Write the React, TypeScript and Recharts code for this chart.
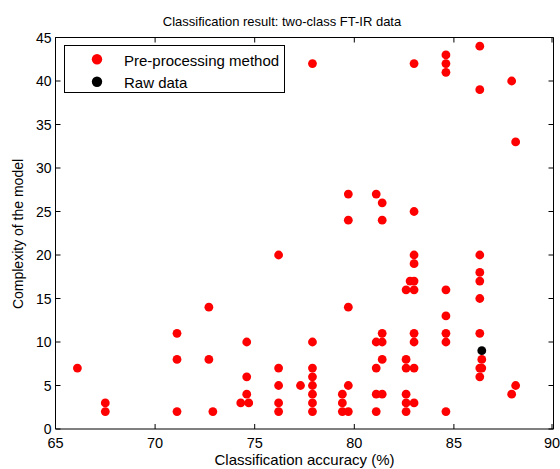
import React from 'react';
import { ScatterChart, Scatter, XAxis, YAxis } from 'recharts';

const preAccuracy = [
  66.1, 67.5, 67.5, 71.1, 71.1, 71.1, 72.7, 72.7, 72.9, 74.3,
  74.6, 74.6, 74.6, 74.7, 76.2, 76.2, 76.2, 76.2, 76.2, 77.3,
  77.9, 77.9, 77.9, 77.9, 77.9, 77.9, 77.9, 77.9, 79.7, 79.7,
  79.7, 79.7, 79.4, 79.4, 79.4, 79.7, 81.1, 81.4, 81.4, 81.4,
  81.1, 81.4, 81.4, 81.1, 81.1, 81.4, 81.1, 82.6, 82.8, 83.0,
  83.0, 83.0, 83.0, 83.0, 83.0, 83.0, 83.0, 82.6, 82.6, 83.0,
  82.6, 82.6, 83.0, 82.6, 84.6, 84.6, 84.6, 84.6, 84.6, 84.6,
  84.6, 84.6, 86.3, 86.3, 86.3, 86.3, 86.3, 86.3, 86.3, 86.4,
  86.3, 86.4, 86.3, 87.9, 88.1, 88.1, 87.9,
];
const preComplexity = [
  7, 3, 2, 11, 8, 2, 14, 8, 2, 3,
  10, 6, 4, 3, 20, 7, 5, 3, 2, 5,
  42, 10, 7, 6, 5, 4, 3, 2, 27, 24,
  14, 5, 4, 3, 2, 2, 27, 26, 24, 11,
  10, 10, 8, 7, 4, 4, 2, 16, 17, 17,
  16, 20, 19, 25, 42, 11, 10, 8, 7, 7,
  4, 3, 3, 2, 43, 42, 41, 16, 13, 11,
  10, 2, 44, 39, 20, 18, 17, 15, 11, 8,
  7, 7, 6, 40, 33, 5, 4,
];
const rawAccuracy = [86.4];
const rawComplexity = [9];

const xTicks = [65, 70, 75, 80, 85, 90];
const yTicks = [0, 5, 10, 15, 20, 25, 30, 35, 40, 45];

const titleText = 'Classification result: two-class FT-IR data';
const xLabelText = 'Classification accuracy (%)';
const yLabelText = 'Complexity of the model';
const seriesNames = ['Pre-processing method', 'Raw data'];

const preData = preAccuracy.map((x, i) => ({ x, y: preComplexity[i] }));
const rawData = rawAccuracy.map((x, i) => ({ x, y: rawComplexity[i] }));

const FONT = '"Liberation Sans", Arial, sans-serif';

const RedDot = (p: any) => <circle cx={p.cx} cy={p.cy} r={4.4} fill="#ff0000" />;
const BlackDot = (p: any) => <circle cx={p.cx} cy={p.cy} r={4.4} fill="#000000" />;

const BottomTick = (p: any) => (
  <g>
    <line x1={p.x} y1={p.y} x2={p.x} y2={p.y - 5} stroke="#000" />
    <text x={p.x} y={p.y + 19} textAnchor="middle" fontSize={14.5} fontFamily={FONT} fill="#000">
      {p.payload.value}
    </text>
  </g>
);
const TopTick = (p: any) => (
  <line x1={p.x} y1={p.y} x2={p.x} y2={p.y + 5} stroke="#000" />
);
const LeftTick = (p: any) => (
  <g>
    <line x1={p.x} y1={p.y} x2={p.x + 5} y2={p.y} stroke="#000" />
    <text x={p.x - 4} y={p.y + 5} textAnchor="end" fontSize={14} fontFamily={FONT} fill="#000">
      {p.payload.value}
    </text>
  </g>
);
const RightTick = (p: any) => (
  <line x1={p.x} y1={p.y} x2={p.x - 5} y2={p.y} stroke="#000" />
);

export default function App() {
  return (
    <div style={{ position: 'absolute', left: 0, top: 0, width: 560, height: 469, background: '#fff' }}>
      <ScatterChart
        width={560}
        height={469}
        margin={{ top: 27.5, right: 0, bottom: 10, left: 25.5 }}
      >
        <XAxis
          xAxisId="b"
          type="number"
          dataKey="x"
          domain={[65, 90]}
          ticks={xTicks}
          height={30}
          tickSize={0}
          tickMargin={0}
          tick={<BottomTick />}
          tickLine={false}
          axisLine={{ stroke: '#000' }}
          allowDataOverflow
        />
        <XAxis
          xAxisId="t"
          orientation="top"
          type="number"
          dataKey="x"
          domain={[65, 90]}
          ticks={xTicks}
          height={10}
          tickSize={0}
          tickMargin={0}
          tick={<TopTick />}
          tickLine={false}
          axisLine={{ stroke: '#000' }}
          allowDataOverflow
        />
        <YAxis
          yAxisId="l"
          type="number"
          dataKey="y"
          domain={[0, 45]}
          ticks={yTicks}
          width={30}
          tickSize={0}
          tickMargin={0}
          tick={<LeftTick />}
          tickLine={false}
          axisLine={{ stroke: '#000' }}
          allowDataOverflow
        />
        <YAxis
          yAxisId="r"
          orientation="right"
          type="number"
          dataKey="y"
          domain={[0, 45]}
          ticks={yTicks}
          width={6.5}
          tickSize={0}
          tickMargin={0}
          tick={<RightTick />}
          tickLine={false}
          axisLine={{ stroke: '#000' }}
          allowDataOverflow
        />
        <Scatter
          name={seriesNames[0]}
          data={preData}
          xAxisId="b"
          yAxisId="l"
          shape={<RedDot />}
          isAnimationActive={false}
        />
        <Scatter
          name={seriesNames[1]}
          data={rawData}
          xAxisId="t"
          yAxisId="r"
          shape={<BlackDot />}
          isAnimationActive={false}
        />
      </ScatterChart>
      <div
        style={{
          position: 'absolute',
          left: 64,
          top: 45,
          width: 219,
          height: 46,
          border: '1px solid #000',
          background: '#fff',
          fontFamily: FONT,
          fontSize: 15,
          lineHeight: '17px',
        }}
      >
        <svg width={20} height={46} style={{ position: 'absolute', left: 24, top: 0 }}>
          <circle cx={8} cy={13.3} r={5.2} fill="#ff0000" />
          <circle cx={8} cy={35.7} r={5.2} fill="#000000" />
        </svg>
        <div style={{ position: 'absolute', left: 59, top: 5.5, whiteSpace: 'nowrap' }}>{seriesNames[0]}</div>
        <div style={{ position: 'absolute', left: 59, top: 27.5, whiteSpace: 'nowrap' }}>{seriesNames[1]}</div>
      </div>
      <svg
        width={560}
        height={469}
        style={{ position: 'absolute', left: 0, top: 0, pointerEvents: 'none' }}
      >
        <text x={282} y={26} textAnchor="middle" fontSize={13} fontFamily={FONT} fill="#000">
          {titleText}
        </text>
        <text x={304.5} y={465} textAnchor="middle" fontSize={15} fontFamily={FONT} fill="#000">
          {xLabelText}
        </text>
        <text
          x={23}
          y={234}
          textAnchor="middle"
          fontSize={14}
          fontFamily={FONT}
          fill="#000"
          transform="rotate(-90 23 234)"
        >
          {yLabelText}
        </text>
      </svg>
    </div>
  );
}
